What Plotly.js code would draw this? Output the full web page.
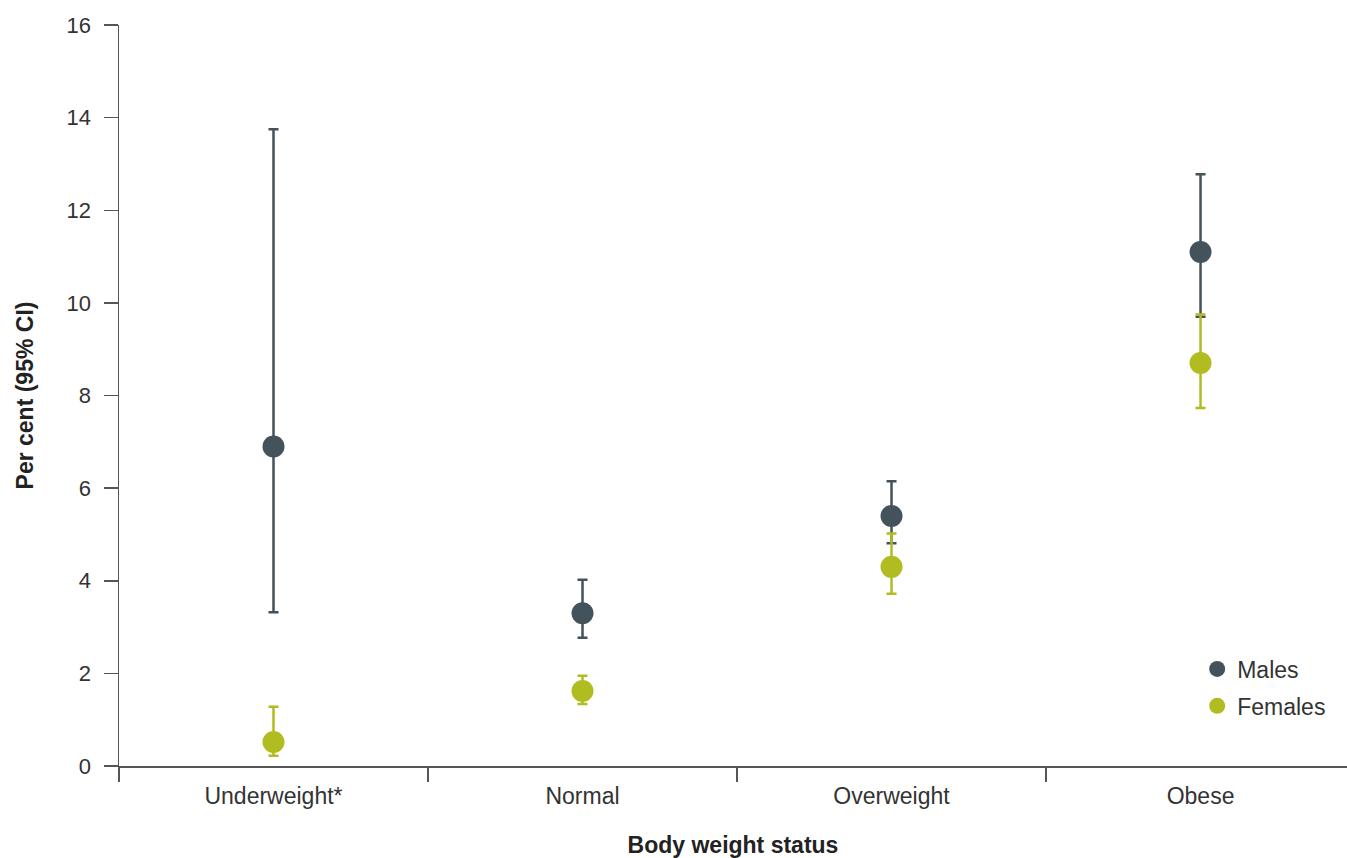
<!DOCTYPE html>
<html>
<head>
<meta charset="utf-8">
<script src="https://cdn.plot.ly/plotly-3.0.1.min.js"></script>
<style>html,body{margin:0;padding:0;background:#fff;}#chart{width:1347px;height:858px;}</style>
</head>
<body>
<div id="chart"></div>
<script>
const categories = ["Underweight*", "Normal", "Overweight", "Obese"];
const malesValue = [6.9, 3.3, 5.4, 11.1];
const malesUpper = [13.75, 4.02, 6.15, 12.78];
const malesLower = [3.32, 2.77, 4.81, 9.7];
const femalesValue = [0.52, 1.62, 4.3, 8.7];
const femalesUpper = [1.28, 1.95, 5.02, 9.75];
const femalesLower = [0.22, 1.34, 3.72, 7.73];
const yTicks = [0, 2, 4, 6, 8, 10, 12, 14, 16];

const maleColor = "#44525c";
const femaleColor = "#b1bc21";

function diff(a, b) { return a.map((v, i) => v - b[i]); }

const traces = [
  {
    type: "scatter", mode: "markers", name: "Males", legendgroup: "m",
    x: categories, y: malesValue,
    marker: {color: maleColor, size: 22},
    error_y: {type: "data", symmetric: false,
      array: diff(malesUpper, malesValue), arrayminus: diff(malesValue, malesLower),
      color: maleColor, thickness: 2.5, width: 5},
    hoverinfo: "x+y"
  },
  {
    type: "scatter", mode: "markers", name: "Females", legendgroup: "f",
    x: categories, y: femalesValue,
    marker: {color: femaleColor, size: 22},
    error_y: {type: "data", symmetric: false,
      array: diff(femalesUpper, femalesValue), arrayminus: diff(femalesValue, femalesLower),
      color: femaleColor, thickness: 2.5, width: 5},
    hoverinfo: "x+y"
  }
];

const layout = {
  width: 1347, height: 858,
  margin: {l: 119, r: 0, t: 25, b: 92},
  paper_bgcolor: "#fff", plot_bgcolor: "#fff",
  font: {family: "Liberation Sans, Arial, sans-serif", size: 22, color: "#333"},
  showlegend: true,
  legend: {x: 0.878, xanchor: "left", y: 0.16, yanchor: "top",
    font: {size: 23, color: "#333"}, traceorder: "grouped", tracegroupgap: 4,
    bgcolor: "rgba(0,0,0,0)"},
  xaxis: {
    type: "category", range: [-0.5, 3.474],
    tickson: "boundaries", ticks: "outside", ticklen: 14, tickwidth: 1.5, tickcolor: "#555",
    showline: true, linecolor: "#555", linewidth: 1.5,
    showgrid: false, zeroline: false,
    ticklabelstandoff: 9,
    tickfont: {size: 23, color: "#333"},
    title: {text: "<b>Body weight status</b>", font: {size: 23, color: "#222"}, standoff: 30}
  },
  yaxis: {
    range: [0, 16], tickvals: yTicks, ticktext: yTicks.map(String),
    ticks: "outside", ticklen: 14, tickwidth: 1.5, tickcolor: "#555",
    showline: true, linecolor: "#555", linewidth: 1.5,
    showgrid: false, zeroline: false,
    ticklabelstandoff: 8,
    tickfont: {size: 22, color: "#333"},
    title: {text: "<b>Per cent (95% CI)</b>", font: {size: 23, color: "#222"}, standoff: 26}
  }
};

Plotly.newPlot("chart", traces, layout, {displayModeBar: false, staticPlot: true});
</script>
</body>
</html>
